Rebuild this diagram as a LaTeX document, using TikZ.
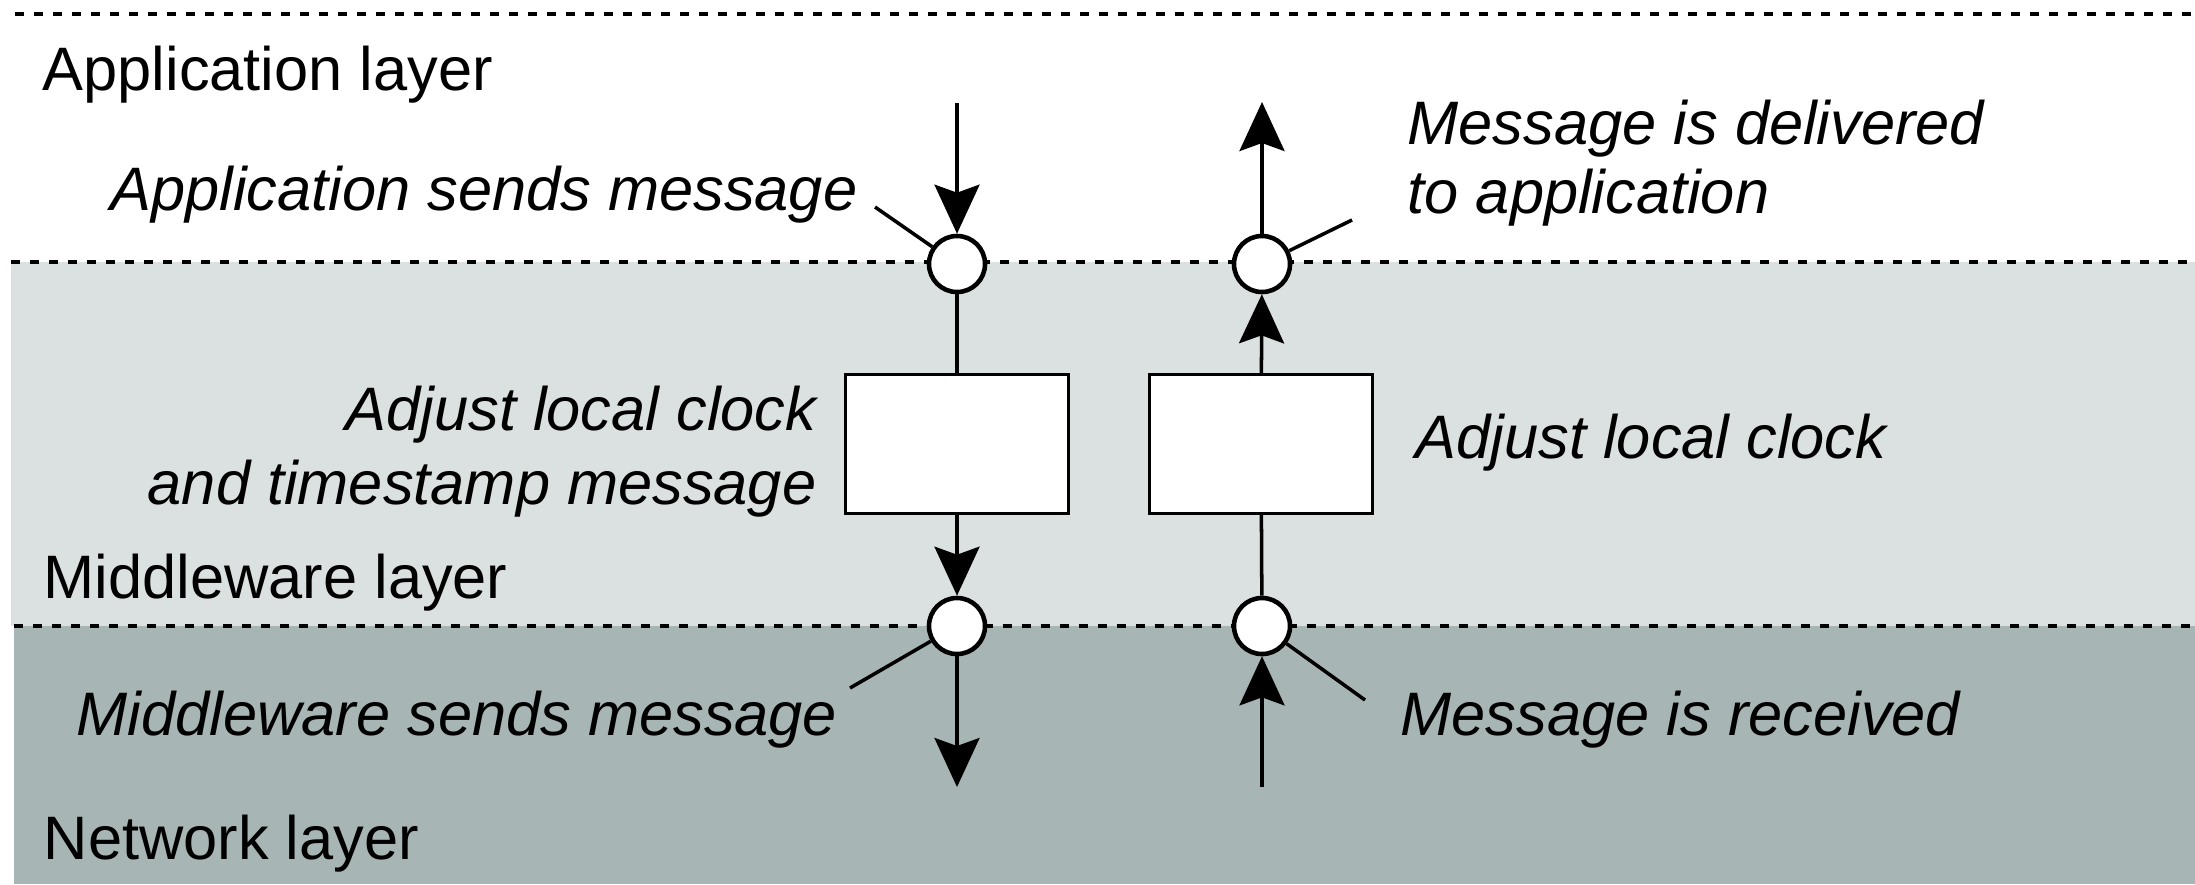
\documentclass[tikz,border=0pt]{standalone}
\usepackage{fontspec}
\setmainfont{Liberation Sans}
\usetikzlibrary{arrows.meta}

\definecolor{midgray}{RGB}{219,224,224}
\definecolor{netgray}{RGB}{167,181,180}

\tikzset{
  layerline/.style={line width=1pt, dash pattern=on 0.09cm off 0.1cm},
  event/.style={circle, draw, fill=white, line width=1.3pt, minimum size=0.56cm, inner sep=0pt},
  clockbox/.style={rectangle, draw, fill=white, line width=0.7pt, minimum width=2.23cm, minimum height=1.39cm, inner sep=0pt},
  flow/.style={line width=1pt, -{Stealth[length=4.9mm,width=4.5mm,inset=0.8mm]}},
  link/.style={line width=1pt},
  leader/.style={line width=1pt},
  layertext/.style={inner sep=0pt, font=\fontsize{17.45pt}{21pt}\selectfont},
  note/.style={inner sep=0pt, font=\fontsize{17.45pt}{20.8pt}\selectfont\itshape},
}

\begin{document}
\begin{tikzpicture}[x=0.01cm, y=-0.01cm]
        \useasboundingbox (0,0) rectangle (2195,884);

        % layers
        \fill[midgray] (11,262) rectangle (2195,626);
        \fill[netgray] (14,626) rectangle (2195,884);
        \draw[layerline] (15,14) -- (2195,14);
        \draw[layerline] (11,262) -- (2195,262);
        \draw[layerline] (14,626) -- (2195,626);

        \node[layertext, anchor=base west] (applayer) at (42,90)  {Application layer};
        \node[layertext, anchor=base west] (midlayer) at (43,598) {Middleware layer};
        \node[layertext, anchor=base west] (netlayer) at (43,859) {Network layer};

        % send side
        \node[event]    (sendapp) at (957,264) {};
        \node[clockbox] (sendbox) at (957,444) {};
        \node[event]    (sendmid) at (957,626) {};
        \coordinate (sendtop) at (957,103);
        \coordinate (sendbot) at (957,787);

        % receive side
        \node[event]    (recvapp) at (1262,264) {};
        \node[clockbox] (recvbox) at (1261,444) {};
        \node[event]    (recvmid) at (1262,626) {};
        \coordinate (recvtop) at (1262,102);
        \coordinate (recvbot) at (1262,787);

        \draw[flow] (sendtop) -- (sendapp);
        \draw[link] (sendapp) -- (sendbox);
        \draw[flow] (sendbox) -- (sendmid);
        \draw[flow] (sendmid) -- (sendbot);

        \draw[flow] (recvbot) -- (recvmid);
        \draw[link] (recvmid) -- (recvbox);
        \draw[flow] (recvbox) -- (recvapp);
        \draw[flow] (recvapp) -- (recvtop);

        % labels
        \node[note, anchor=base east] (appsends) at (858,210) {Application sends message};
        \node[note, anchor=base west, align=left, font=\fontsize{17.45pt}{19.4pt}\selectfont\itshape]
              (delivered) at (1407,213) {Message is delivered\\to application};
        \node[note, anchor=base east, align=right] (adjustsend) at (817,504) {Adjust local clock\\and timestamp message};
        \node[note, anchor=base west] (adjustrecv) at (1415,458) {Adjust local clock};
        \node[note, anchor=base east] (midsends) at (838,735) {Middleware sends message};
        \node[note, anchor=base west] (received) at (1400,735) {Message is received};

        \coordinate (appsendsleg)  at (875,207);
        \coordinate (deliveredleg) at (1352,220);
        \coordinate (midsendsleg)  at (850,688);
        \coordinate (receivedleg)  at (1365,700);

        \draw[leader] (appsendsleg)  -- (sendapp);
        \draw[leader] (deliveredleg) -- (recvapp);
        \draw[leader] (midsendsleg)  -- (sendmid);
        \draw[leader] (receivedleg)  -- (recvmid);
\end{tikzpicture}
\end{document}
